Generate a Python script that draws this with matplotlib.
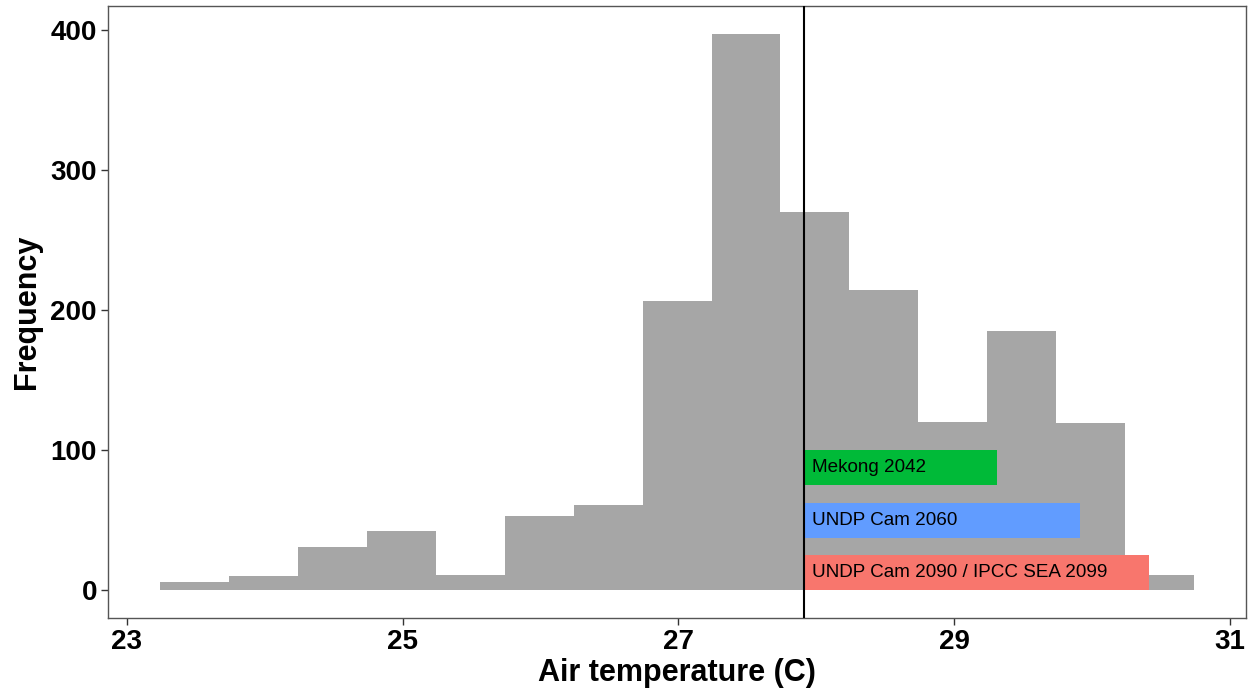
import numpy as np
import matplotlib
matplotlib.use("Agg")
import matplotlib.pyplot as plt

plt.rcParams['font.family'] = ['Liberation Sans', 'DejaVu Sans']

# histogram bins (0.5 C wide) and counts
bin_start = 23.24
bin_width = 0.5
counts = [6, 10, 31, 42, 11, 53, 61, 206, 397, 270, 214, 120, 185, 119, 11]

# reference line and projected warming boxes
baseline = 27.91
scenario_names = ["Mekong 2042", "UNDP Cam 2060", "UNDP Cam 2090 / IPCC SEA 2099"]
scenario_warming = [1.4, 2.0, 2.5]
scenario_ylow = [75, 37.5, 0]
scenario_yhigh = [100, 62.5, 25]
scenario_colors = ["#00BA38", "#619CFF", "#F8766D"]

edges = bin_start + bin_width * np.arange(len(counts) + 1)

fig = plt.figure(figsize=(12.52, 6.94), dpi=100)
ax = fig.add_axes([0.0863, 0.1095, 0.9089, 0.882])

ax.bar(edges[:-1], counts, width=bin_width, align='edge',
       color="#A6A6A6", linewidth=0, zorder=1)

for name, w, lo, hi, col in zip(scenario_names, scenario_warming, scenario_ylow,
                                 scenario_yhigh, scenario_colors):
    ax.fill_between([baseline, baseline + w], lo, hi, color=col, linewidth=0, zorder=2)
    ax.text(baseline + 0.06, (lo + hi) / 2, name, fontsize=13.6, va='center',
            ha='left', color='black', zorder=3)

ax.axvline(baseline, color='black', linewidth=1.5, zorder=4)

span = edges[-1] - edges[0]
ax.set_xlim(edges[0] - 0.05 * span, edges[-1] + 0.05 * span)
ax.set_ylim(-0.05 * max(counts), 1.05 * max(counts))

ax.set_xticks([23, 25, 27, 29, 31])
ax.set_yticks([0, 100, 200, 300, 400])
ax.tick_params(axis='both', labelsize=20, length=5, width=1, color='#333333',
               pad=3)
for lab in ax.get_xticklabels() + ax.get_yticklabels():
    lab.set_fontweight('bold')

ax.set_xlabel("Air temperature (C)", fontsize=22, fontweight='bold', labelpad=2)
ax.set_ylabel("Frequency", fontsize=22, fontweight='bold', labelpad=6)

for s in ax.spines.values():
    s.set_color('#555555')
    s.set_linewidth(1.0)

fig.savefig("out.png", dpi=100)
